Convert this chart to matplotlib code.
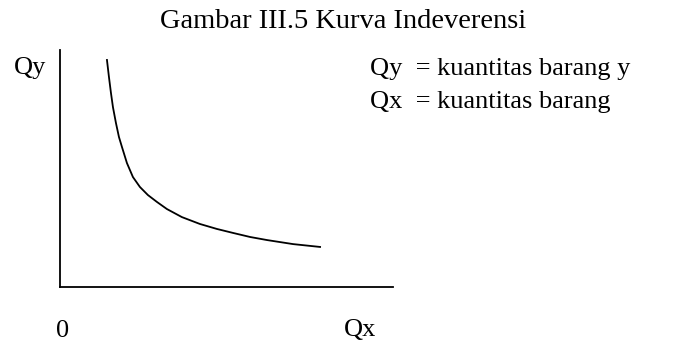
import matplotlib
matplotlib.use("Agg")
import matplotlib.pyplot as plt

# Indifference curve: quantity of good x vs quantity of good y
qx = [1.41, 1.47, 1.53, 1.59, 1.68, 1.77, 1.86, 2.01, 2.19, 2.40, 2.64,
      2.91, 3.21, 3.66, 4.20, 4.71, 5.20, 5.71, 6.22, 7.00, 7.81]
qy = [9.58, 8.86, 8.19, 7.59, 6.92, 6.33, 5.91, 5.23, 4.64, 4.22, 3.88,
      3.59, 3.29, 2.95, 2.66, 2.45, 2.28, 2.11, 1.98, 1.81, 1.69]

title = "Gambar III.5 Kurva Indeverensi"
y_label = "Qy"
x_label = "Qx"
origin_label = "0"
notes = ["Qy  = kuantitas barang y", "Qx  = kuantitas barang"]

W, H = 688, 344
fig = plt.figure(figsize=(W / 100, H / 100), dpi=100)
fig.patch.set_facecolor("white")

font = dict(family="Liberation Serif", color="black")
fs = 19

ax = fig.add_axes([60 / W, 1 - 287 / H, 333 / W, 237 / H])
ax.plot(qx, qy, color="black", lw=1.3, solid_joinstyle="round")
ax.set_xlim(0, 10)
ax.set_ylim(0, 10)
for side in ("top", "right"):
    ax.spines[side].set_visible(False)
for side in ("left", "bottom"):
    ax.spines[side].set_linewidth(1.3)
    ax.spines[side].set_color("black")
ax.set_xticks([])
ax.set_yticks([])
ax.patch.set_alpha(0)

def px(x, y, s, size=fs, **kw):
    fig.text(x / W, 1 - y / H, s, fontsize=size, va="baseline", **font, **kw)

px(160, 28, title, size=20.5)
px(14, 74, y_label)
px(56, 337, origin_label)
px(344, 336, x_label)
px(370, 75, notes[0])
px(370, 108, notes[1])

fig.savefig("out.png", dpi=100, facecolor="white")
